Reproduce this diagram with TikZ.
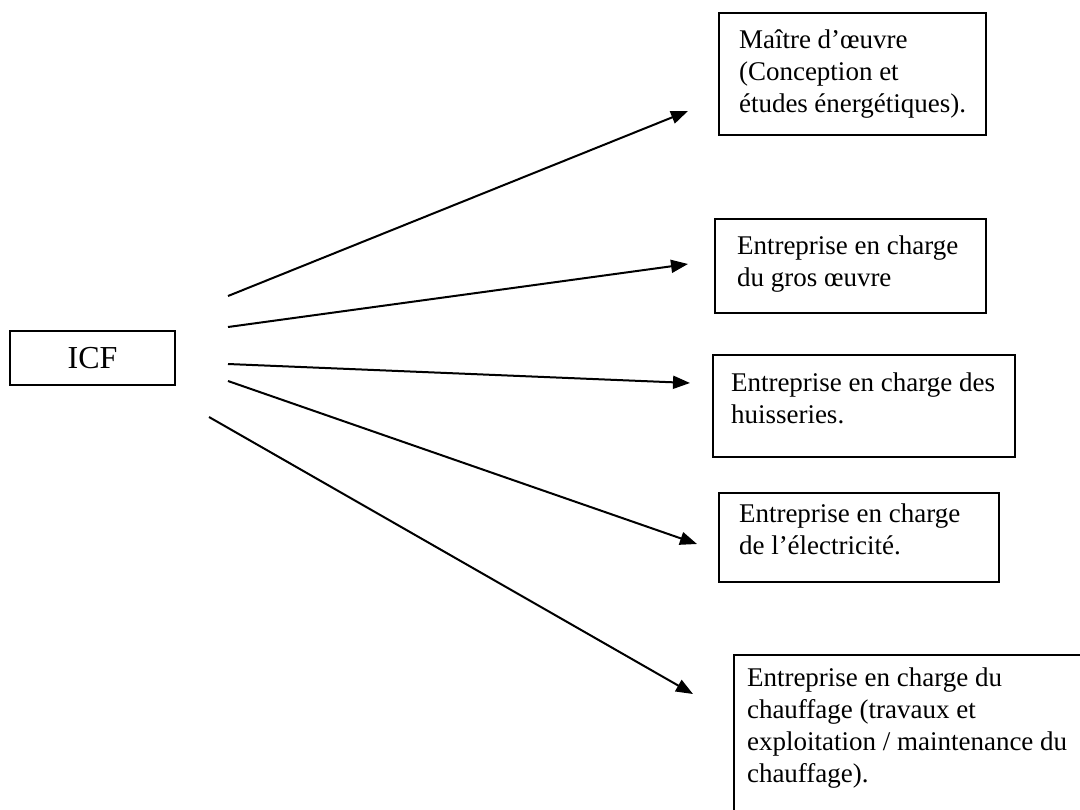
\documentclass[tikz,border=0pt]{standalone}
\usepackage{fontspec}
\setmainfont{Liberation Serif}
\usetikzlibrary{arrows.meta}
\newcommand{\cadre}[3]{\parbox[t][#2][t]{#1}{\raggedright\strut #3}}

\begin{document}
\begin{tikzpicture}[x=0.5pt, y=-0.5pt]
    \tikzstyle{every node} = [font=\fontsize{13.5}{16}\selectfont]
    \tikzstyle{boite} = [draw, line width=1pt, anchor=north west, inner xsep=10pt, inner ysep=6pt]
    \tikzstyle{fleche} = [line width=1pt, -{Triangle[length=8.5pt, width=6.5pt]}]

    \useasboundingbox (0,0) rectangle (1080,809);

    \node[boite, minimum width=82.5pt, minimum height=27pt, inner sep=0pt, font=\fontsize{16}{19}\selectfont] (icf) at (9,330) {ICF};

    \node[boite, inner ysep=6.5pt] (moe) at (718,12)
        {\cadre{113.5pt}{48pt}{Maître d’œuvre\\(Conception et\\études énergétiques).}};
    \node[boite, inner xsep=11pt, inner ysep=6.3pt] (grosoeuvre) at (714,218)
        {\cadre{113.5pt}{34.4pt}{Entreprise en charge\\du gros œuvre}};
    \node[boite, inner xsep=9pt, inner ysep=7.2pt] (huisseries) at (712,354)
        {\cadre{133pt}{36.6pt}{Entreprise en charge des\\huisseries.}};
    \node[boite, inner ysep=3.3pt] (electricite) at (718,492)
        {\cadre{120pt}{37.9pt}{Entreprise en charge\\de l’électricité.}};
    \node[boite, inner xsep=6.5pt, inner ysep=4.3pt] (chauffage) at (733,654)
        {\cadre{167pt}{76.4pt}{Entreprise en charge du\\chauffage (travaux et\\exploitation / maintenance du\\chauffage).}};

    % fleches depuis ICF
    \foreach[count=\c] \sx/\sy/\ex/\ey in {228/296/688/111, 228/327/688/264, 228/364/690/383, 228/381/697/544, 209/417/693/694} {
        \coordinate (d\c) at (\sx,\sy);
        \coordinate (f\c) at (\ex,\ey);
        \draw[fleche] (d\c) -- (f\c);
    }
\end{tikzpicture}
\end{document}
